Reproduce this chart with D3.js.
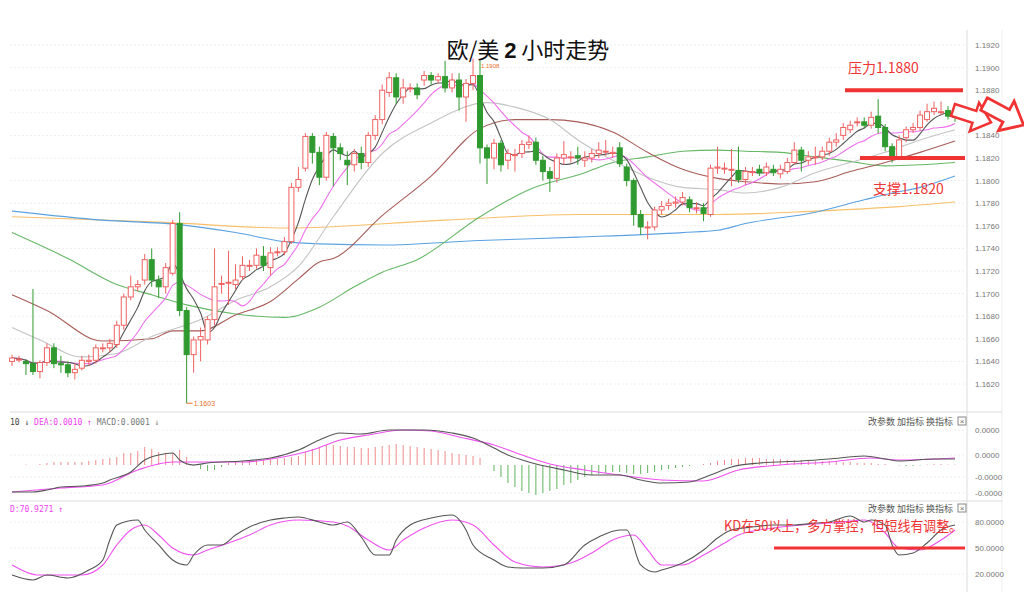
<!DOCTYPE html>
<html><head><meta charset="utf-8">
<script src="https://cdn.jsdelivr.net/npm/d3@7/dist/d3.min.js"></script>
<style>body{margin:0;background:#fff}svg{display:block;font-family:"Liberation Sans",Arial,sans-serif}</style>
</head><body><svg id="c" width="1024" height="598"></svg>
<script>
// candles [open, high, low, close]
const candles = [
[1.1640,1.1646,1.1636,1.1643],[1.1642,1.1645,1.1639,1.1642],[1.1640,1.1642,1.1628,1.1638],[1.1638,1.1704,1.1628,1.1631],
[1.1631,1.1641,1.1625,1.1639],[1.1639,1.1656,1.1636,1.1652],[1.1652,1.1656,1.1634,1.1638],[1.1638,1.1645,1.1630,1.1637],
[1.1637,1.1640,1.1626,1.1630],[1.1630,1.1638,1.1624,1.1633],[1.1634,1.1645,1.1632,1.1641],[1.1640,1.1646,1.1636,1.1641],
[1.1641,1.1655,1.1638,1.1652],[1.1652,1.1656,1.1648,1.1652],[1.1652,1.1660,1.1648,1.1656],[1.1655,1.1676,1.1652,1.1672],
[1.1672,1.1700,1.1668,1.1697],[1.1697,1.1716,1.1694,1.1706],[1.1706,1.1712,1.1702,1.1708],[1.1712,1.1735,1.1708,1.1730],
[1.1730,1.1740,1.1706,1.1712],[1.1712,1.1716,1.1696,1.1706],[1.1706,1.1727,1.1700,1.1723],[1.1718,1.1765,1.1716,1.1762],
[1.1762,1.1772,1.1680,1.1685],[1.1685,1.1688,1.1603,1.1646],[1.1646,1.1662,1.1630,1.1659],[1.1659,1.1670,1.1640,1.1662],
[1.1659,1.1680,1.1655,1.1677],[1.1677,1.1740,1.1672,1.1706],[1.1709,1.1716,1.1700,1.1709],[1.1710,1.1738,1.1690,1.1710],
[1.1708,1.1726,1.1704,1.1712],[1.1715,1.1733,1.1712,1.1725],[1.1725,1.1730,1.1720,1.1725],[1.1725,1.1740,1.1722,1.1734],
[1.1733,1.1742,1.1720,1.1725],[1.1723,1.1741,1.1716,1.1736],[1.1737,1.1741,1.1733,1.1737],[1.1737,1.1750,1.1734,1.1746],
[1.1746,1.1798,1.1744,1.1794],[1.1794,1.1812,1.1790,1.1801],[1.1811,1.1842,1.1808,1.1839],[1.1839,1.1842,1.1815,1.1825],
[1.1825,1.1830,1.1796,1.1803],[1.1803,1.1843,1.1800,1.1840],[1.1839,1.1842,1.1795,1.1829],[1.1829,1.1833,1.1818,1.1824],
[1.1818,1.1826,1.1796,1.1814],[1.1814,1.1828,1.1808,1.1824],[1.1824,1.1830,1.1810,1.1816],[1.1816,1.1843,1.1812,1.1840],
[1.1840,1.1858,1.1836,1.1854],[1.1854,1.1885,1.1850,1.1880],[1.1878,1.1896,1.1874,1.1891],[1.1891,1.1895,1.1868,1.1874],
[1.1874,1.1890,1.1868,1.1882],[1.1882,1.1886,1.1878,1.1882],[1.1882,1.1886,1.1872,1.1876],[1.1889,1.1897,1.1884,1.1893],
[1.1893,1.1896,1.1885,1.1889],[1.1889,1.1895,1.1886,1.1892],[1.1892,1.1906,1.1878,1.1882],[1.1882,1.1895,1.1878,1.1889],
[1.1889,1.1895,1.1862,1.1874],[1.1874,1.1890,1.1852,1.1886],[1.1886,1.1908,1.1880,1.1893],[1.1893,1.1906,1.1815,1.1829],
[1.1829,1.1832,1.1797,1.1820],[1.1820,1.1837,1.1810,1.1833],[1.1833,1.1836,1.1808,1.1814],[1.1818,1.1828,1.1810,1.1824],
[1.1823,1.1828,1.1808,1.1823],[1.1824,1.1836,1.1820,1.1832],[1.1832,1.1840,1.1828,1.1834],[1.1834,1.1838,1.1814,1.1818],
[1.1818,1.1822,1.1800,1.1808],[1.1808,1.1812,1.1790,1.1802],[1.1802,1.1824,1.1798,1.1820],[1.1820,1.1835,1.1814,1.1823],
[1.1821,1.1826,1.1816,1.1821],[1.1822,1.1830,1.1814,1.1820],[1.1818,1.1826,1.1812,1.1820],[1.1820,1.1828,1.1816,1.1824],
[1.1824,1.1834,1.1820,1.1827],[1.1826,1.1836,1.1822,1.1826],[1.1824,1.1830,1.1820,1.1825],[1.1829,1.1834,1.1812,1.1815],
[1.1812,1.1815,1.1795,1.1800],[1.1800,1.1802,1.1760,1.1770],[1.1770,1.1774,1.1752,1.1759],[1.1759,1.1764,1.1748,1.1759],
[1.1759,1.1777,1.1756,1.1774],[1.1774,1.1782,1.1770,1.1777],[1.1778,1.1784,1.1774,1.1780],[1.1780,1.1786,1.1776,1.1781],
[1.1781,1.1790,1.1778,1.1785],[1.1783,1.1786,1.1772,1.1776],[1.1776,1.1781,1.1771,1.1776],[1.1776,1.1780,1.1764,1.1771],
[1.1770,1.1814,1.1768,1.1811],[1.1811,1.1830,1.1806,1.1812],[1.1811,1.1816,1.1806,1.1811],[1.1810,1.1828,1.1795,1.1810],
[1.1809,1.1830,1.1798,1.1801],[1.1801,1.1812,1.1796,1.1808],[1.1808,1.1812,1.1804,1.1808],[1.1810,1.1814,1.1804,1.1807],
[1.1807,1.1816,1.1804,1.1812],[1.1810,1.1814,1.1804,1.1807],[1.1806,1.1814,1.1802,1.1810],[1.1808,1.1820,1.1806,1.1816],
[1.1816,1.1834,1.1814,1.1827],[1.1827,1.1830,1.1808,1.1818],[1.1818,1.1826,1.1814,1.1821],[1.1821,1.1830,1.1814,1.1821],
[1.1821,1.1830,1.1818,1.1826],[1.1826,1.1838,1.1822,1.1834],[1.1834,1.1842,1.1830,1.1836],[1.1840,1.1851,1.1836,1.1847],
[1.1845,1.1853,1.1842,1.1849],[1.1852,1.1856,1.1848,1.1852],[1.1852,1.1856,1.1846,1.1849],[1.1849,1.1861,1.1846,1.1856],
[1.1857,1.1872,1.1842,1.1847],[1.1847,1.1850,1.1826,1.1830],[1.1830,1.1833,1.1816,1.1821],[1.1821,1.1840,1.1818,1.1836],
[1.1838,1.1848,1.1834,1.1845],[1.1845,1.1851,1.1842,1.1847],[1.1847,1.1862,1.1844,1.1858],[1.1854,1.1868,1.1852,1.1861],
[1.1861,1.1870,1.1858,1.1864],[1.1861,1.1870,1.1858,1.1861],[1.1862,1.1866,1.1854,1.1857],[1.1858,1.1860,1.1852,1.1856]
];
// long moving averages: [candle index, price]
const ma20 = [[0,1.1670],[4,1.1659],[10,1.1644],[15,1.1647],[20,1.1662],[27,1.1677],[32,1.1694],[37,1.1706],[41,1.1724],[46,1.1768],[53,1.1824],[60,1.1851],[68,1.1869],[72,1.1865],[77,1.1854],[81,1.1836],[86,1.1818],[91,1.1803],[96,1.1794],[101,1.1792],[105,1.1789],[110,1.1794],[115,1.1807],[120,1.1816],[125,1.1825],[130,1.1836],[135,1.1845]];
const ma30 = [[0,1.1699],[5,1.1685],[13,1.1658],[20,1.1660],[23,1.1667],[27,1.1667],[32,1.1681],[37,1.1693],[41,1.1713],[44,1.1728],[46,1.1731],[53,1.1769],[60,1.1804],[67,1.1846],[72,1.1854],[77,1.1854],[81,1.1852],[86,1.1843],[91,1.1825],[96,1.1810],[101,1.1802],[105,1.1799],[110,1.1797],[115,1.1799],[120,1.1808],[125,1.1816],[130,1.1825],[135,1.1835]];
const ma60 = [[0,1.1754],[8,1.1731],[15,1.1708],[20,1.1699],[25,1.1690],[32,1.1682],[39,1.1679],[44,1.1688],[49,1.1706],[53,1.1719],[58,1.1730],[67,1.1768],[74,1.1792],[82,1.1807],[86,1.1816],[91,1.1821],[96,1.1826],[101,1.1827],[105,1.1826],[110,1.1825],[115,1.1821],[120,1.1817],[125,1.1813],[130,1.1814],[135,1.1816]];
const ma120 = [[0,1.1773],[13,1.1765],[24,1.1761],[32,1.1754],[39,1.1746],[44,1.1744],[53,1.1743],[67,1.1747],[81,1.1750],[96,1.1754],[101,1.1756],[105,1.1762],[115,1.1772],[122,1.1783],[126,1.1789],[130,1.1794],[135,1.1804]];
const ma250 = [[0,1.1768],[22,1.1763],[39,1.1758],[62,1.1765],[81,1.1770],[101,1.1770],[115,1.1773],[127,1.1777],[135,1.1781]];
const priceTicks = [1.1620,1.1640,1.1660,1.1680,1.1700,1.1720,1.1740,1.1760,1.1780,1.1800,1.1820,1.1840,1.1860,1.1880,1.1900,1.1920];

// MACD in units of 0.0001
const macdHist = [0,0,0.5,0,1,2,3,3,3,3,3,4,5,6,7,8,12,12,14,18,16,13,12,12,15,8,-1,-4,-6,-5,-2,
2,3,4,4,5,5,6,6,7,8,9,13,16,18,20,20,19,18,18,17,17,18,19,20,21,20,19,18,17,16,
15,14,12,11,10,9,7,0,-6,-12,-18,-22,-26,-28,-30,-28,-26,-24,-20,-18,-15,-12,-10,-9,-8,
-7,-7,-8,-9,-9,-8,-7,-5,-4,-3,-2,-1,0,1,2,4,5,6,6,7,7,7,6,6,6,5,5,5,4,4,
4,4,3,3,3,2,2,2,1,1,0,-0.5,-1,-1,-0.5,0.5,1,1,0.5,0.5];
const dif = [[0,-27],[3,-27],[5,-25],[7,-22],[10,-21],[13,-18],[14,-15],[17,-7],[19,5],[21,10],[23,12],[24,5],[26,0],[28,2],[33,4],[37,7],[41,15],[44,25],[47,32],[50,31],[54,35],[59,35],[63,32],[66,27],[69,17],[71,10],[74,3],[79,-5],[83,-10],[87,-10],[90,-15],[93,-18],[97,-17],[100,-10],[103,-2],[107,2],[113,4],[117,6],[122,9],[125,6],[127,4],[132,6],[135,6]];
const dea = [[0,-27],[7,-23],[13,-20],[18,-5],[23,3],[27,3],[33,3],[38,7],[43,15],[47,25],[51,30],[56,35],[60,34],[64,28],[69,20],[73,10],[77,1],[82,-5],[87,-10],[93,-15],[99,-16],[104,-5],[110,0],[117,3],[123,7],[127,5],[135,7]];
const macdTicks = [[0.0035,"0.0000"],[0.0010,"0.0000"],[-0.0012,"-0.0000"],[-0.0028,"-0.0000"]];

// KD
const kLine = [[0,18.8],[3,13.1],[5,18.8],[8,15.4],[11,24.6],[13,36.2],[14,59.2],[15,76.5],[18,82.3],[19,70.8],[21,53.5],[23,36.2],[25,30.4],[26,41.9],[28,53.5],[30,53.5],[32,65],[34,74.2],[37,82.3],[39,84.6],[41,85.8],[44,80],[46,76.5],[48,80],[50,62.7],[52,41.9],[54,41.9],[55,59.2],[57,76.5],[60,84.6],[63,88.1],[65,70.8],[66,53.5],[69,36.2],[71,28.1],[73,26.9],[76,26.9],[79,30.4],[82,53.5],[84,62.7],[87,70.8],[88,70.8],[90,30.4],[92,22.3],[93,24.6],[96,32.7],[99,47.7],[101,61.5],[103,70.8],[106,74.2],[109,76.5],[112,76.5],[115,78.8],[117,80],[120,86.9],[122,80],[123,82.3],[125,76.5],[126,53.5],[127,41.9],[129,44.2],[131,55.8],[133,70.8],[135,76.5]];
const dLine = [[0,30.4],[4,18.8],[10,18.8],[13,30.4],[15,53.5],[17,70.8],[19,76.5],[21,65],[23,50],[26,41.9],[28,47.7],[31,55.8],[34,65],[37,76.5],[41,82.3],[46,80],[48,75.4],[51,59.2],[54,47.7],[56,59.2],[59,73.1],[63,82.3],[66,76.5],[69,53.5],[72,33.8],[76,28.1],[80,32.7],[83,44.2],[86,59.2],[89,65],[91,47.7],[93,30.4],[96,30.4],[99,41.9],[102,55.8],[104,65],[109,73.1],[113,76.5],[119,80],[122,82.3],[125,67.3],[127,50],[130,47.7],[133,59.2],[135,70.8]];
const kdTicks = [20,50,80];

const svg = d3.select('#c');
const n = candles.length;
const x = d3.scaleLinear().domain([0, n - 1]).range([12, 955]);
const y = d3.scaleLinear().domain([1.1620, 1.1920]).range([384, 45]);
const ym = d3.scaleLinear().domain([-0.0035, 0.0052]).range([500, 413]);
const yk = d3.scaleLinear().domain([20, 80]).range([574, 522]);
const UP = '#f06262', DOWN = '#2f9a2f';

// frame
svg.append('line').attr('x1', 967).attr('x2', 967).attr('y1', 30).attr('y2', 592).attr('stroke', '#ddd');
svg.append('line').attr('x1', 1002).attr('x2', 1002).attr('y1', 30).attr('y2', 592).attr('stroke', '#eee');
[412, 501].forEach(v => svg.append('line').attr('x1', 10).attr('x2', 1002).attr('y1', v).attr('y2', v).attr('stroke', '#ddd'));

// grid + axis labels
const grid = (ticks, sc) => ticks.forEach(t => svg.append('line').attr('x1', 10).attr('x2', 965)
  .attr('y1', sc(t)).attr('y2', sc(t)).attr('stroke', '#eee').attr('stroke-dasharray', '2,2'));
grid(priceTicks, y);
grid(macdTicks.map(d => d[0]), ym);
grid(kdTicks, yk);
const lab = (txt, yy) => svg.append('text').attr('x', 975).attr('y', yy + 3).attr('font-size', 8).attr('fill', '#777').text(txt);
priceTicks.forEach(t => lab(d3.format('.4f')(t), y(t)));
macdTicks.forEach(t => lab(t[1], ym(t[0])));
kdTicks.forEach(t => lab(d3.format('.4f')(t), yk(t)));

// moving averages
const knotLine = sc => d3.line().x(d => x(d[0])).y(d => sc(d[1])).curve(d3.curveMonotoneX);
const maDraw = (data, color) => svg.append('path').datum(data).attr('d', knotLine(y))
  .attr('fill', 'none').attr('stroke', color).attr('stroke-width', 1.1);
maDraw(ma250, '#f8c06a');
maDraw(ma120, '#5aa2e2');
maDraw(ma60, '#66b866');
maDraw(ma30, '#a85c58');
maDraw(ma20, '#c4c4c4');
const closes = candles.map(c => c[3]);
const sma = p => closes.map((c, i) => [i, d3.mean(closes.slice(Math.max(0, i - p + 1), i + 1))]);
maDraw(sma(10), '#f070f0');
maDraw(sma(5), '#555');

// candles
const g = svg.append('g');
candles.forEach((c, i) => {
  const [o, h, l, cl] = c, up = cl >= o, col = up ? UP : DOWN, cx = x(i);
  g.append('line').attr('x1', cx).attr('x2', cx).attr('y1', y(h)).attr('y2', y(l)).attr('stroke', col);
  const top = y(Math.max(o, cl)), ht = Math.max(1, Math.abs(y(o) - y(cl)));
  g.append('rect').attr('x', cx - 2.5).attr('y', top).attr('width', 5).attr('height', ht)
    .attr('fill', up ? '#fff' : col).attr('stroke', col);
});
// low / high markers
svg.append('line').attr('x1', x(25)).attr('x2', x(25) + 6).attr('y1', y(1.1603)).attr('y2', y(1.1603)).attr('stroke', '#e8702a');
svg.append('text').attr('x', x(25) + 7).attr('y', y(1.1603) + 3).attr('font-size', 7).attr('fill', '#e8702a').text('1.1603');
svg.append('text').attr('x', x(66) + 8).attr('y', 68).attr('font-size', 6).attr('fill', '#e8702a').text('1.1908');

// MACD
svg.append('g').selectAll('line').data(macdHist).join('line')
  .attr('x1', (d, i) => x(i)).attr('x2', (d, i) => x(i))
  .attr('y1', ym(0)).attr('y2', d => ym(d / 10000))
  .attr('stroke', d => d >= 0 ? '#f08a8a' : '#5fb35f').attr('stroke-width', 1);
const macdLine = d3.line().x(d => x(d[0])).y(d => ym(d[1] / 10000)).curve(d3.curveMonotoneX);
svg.append('path').datum(dea).attr('d', macdLine).attr('fill', 'none').attr('stroke', '#f050f0').attr('stroke-width', 1.1);
svg.append('path').datum(dif).attr('d', macdLine).attr('fill', 'none').attr('stroke', '#555').attr('stroke-width', 1.1);

// KD
const kdPath = d3.line().x(d => x(d[0])).y(d => yk(d[1])).curve(d3.curveMonotoneX);
svg.append('path').datum(dLine).attr('d', kdPath).attr('fill', 'none').attr('stroke', '#f050f0').attr('stroke-width', 1.1);
svg.append('path').datum(kLine).attr('d', kdPath).attr('fill', 'none').attr('stroke', '#555').attr('stroke-width', 1.1);

// panel headers
const hdr = svg.append('text').attr('x', 10).attr('y', 425).attr('font-size', 8).attr('font-family', 'DejaVu Sans Mono, monospace');
hdr.append('tspan').attr('fill', '#444').text('10 ↓ ');
hdr.append('tspan').attr('fill', '#f040f0').text('DEA:0.0010 ↑ ');
hdr.append('tspan').attr('fill', '#777').text('MACD:0.0001 ↓');
svg.append('text').attr('x', 10).attr('y', 512).attr('font-size', 8).attr('font-family', 'DejaVu Sans Mono, monospace')
  .attr('fill', '#f040f0').text('D:70.9271 ↑');
[425, 512].forEach(yy => {
  ['改参数', '加指标', '换指标'].forEach((t, k) => svg.append('text').attr('x', 868 + k * 29).attr('y', yy)
    .attr('font-size', 9).attr('fill', '#555').attr('font-family', 'Noto Sans CJK SC').text(t));
  svg.append('rect').attr('x', 958).attr('y', yy - 8).attr('width', 8).attr('height', 8).attr('fill', 'none').attr('stroke', '#888');
  svg.append('text').attr('x', 962).attr('y', yy - 1).attr('font-size', 8).attr('fill', '#666').attr('text-anchor', 'middle').text('×');
});

// annotations
const title = svg.append('text').attr('x', 528).attr('y', 58).attr('text-anchor', 'middle').attr('font-size', 22)
  .attr('font-family', 'Noto Sans CJK SC').attr('fill', '#111');
title.append('tspan').text('欧/美 ');
title.append('tspan').attr('font-weight', 'bold').attr('font-family', 'Liberation Sans').text('2');
title.append('tspan').text(' 小时走势');
const RED = '#f03434';
svg.append('text').attr('x', 848).attr('y', 73).attr('font-size', 14).attr('fill', RED).attr('font-family', 'Noto Sans CJK SC').text('压力1.1880');
svg.append('line').attr('x1', 845).attr('x2', 963).attr('y1', y(1.1880)).attr('y2', y(1.1880)).attr('stroke', RED).attr('stroke-width', 4);
svg.append('line').attr('x1', 860).attr('x2', 965).attr('y1', y(1.1820)).attr('y2', y(1.1820)).attr('stroke', RED).attr('stroke-width', 4);
svg.append('text').attr('x', 873).attr('y', 194).attr('font-size', 14).attr('fill', RED).attr('font-family', 'Noto Sans CJK SC').text('支撑1.1820');
svg.append('text').attr('x', 724).attr('y', 531).attr('font-size', 14).attr('fill', RED).attr('font-family', 'Noto Sans CJK SC')
  .attr('textLength', 238).attr('lengthAdjust', 'spacingAndGlyphs').text('KD在50以上，多方掌控，但短线有调整。');
svg.append('line').attr('x1', 774).attr('x2', 965).attr('y1', yk(50)).attr('y2', yk(50)).attr('stroke', RED).attr('stroke-width', 3);
// block arrows
const arrow = 'M0,-5 L18,-5 L18,-12 L32,0 L18,12 L18,5 L0,5 Z';
[[953, 110, 18, 1.25], [984, 104, 28, 1.4]].forEach(([ax, ay, rot, s]) =>
  svg.append('path').attr('d', arrow).attr('transform', `translate(${ax},${ay}) rotate(${rot}) scale(${s})`)
    .attr('fill', '#fff').attr('stroke', RED).attr('stroke-width', 2));
</script></body></html>
